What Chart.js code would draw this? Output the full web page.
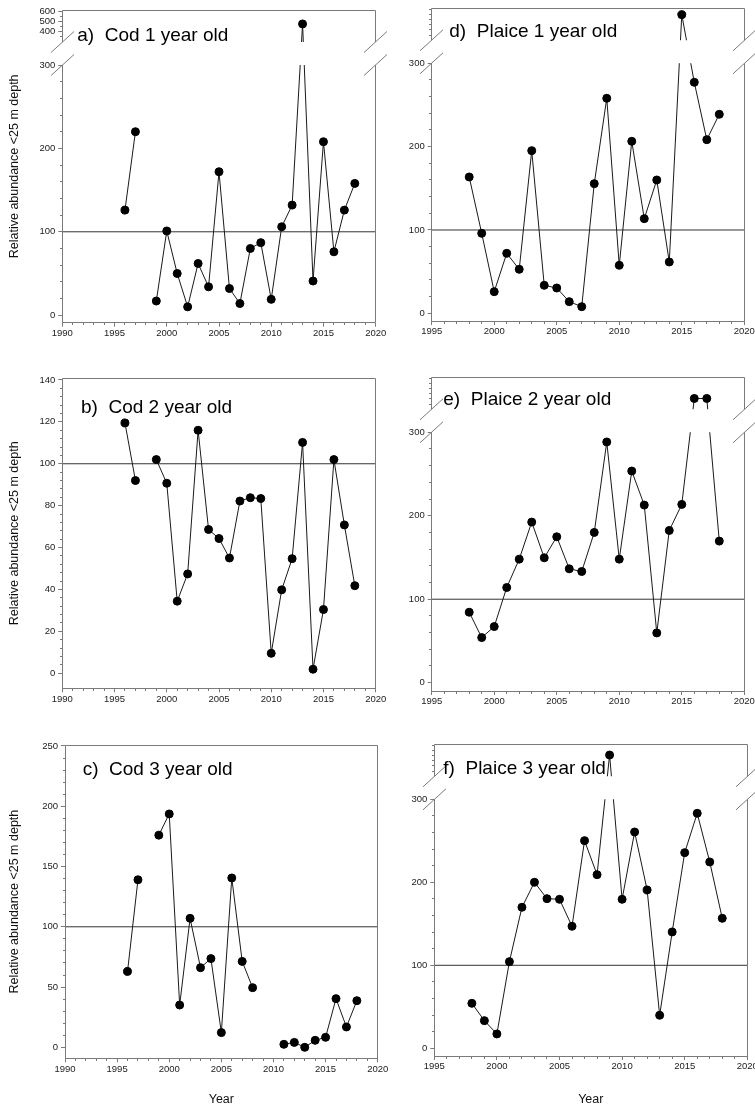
<!DOCTYPE html>
<html>
<head>
<meta charset="utf-8">
<script src="https://cdn.jsdelivr.net/npm/chart.js"></script>
<style>
  html, body { margin: 0; padding: 0; background: #fff; }
  #page { position: relative; width: 755px; height: 1108px; overflow: hidden; background: #fff; }
  #page canvas { position: absolute; }
</style>
</head>
<body>
<div id="page">
  <canvas id="ca"></canvas>
  <canvas id="cb"></canvas>
  <canvas id="cc"></canvas>
  <canvas id="cd"></canvas>
  <canvas id="ce"></canvas>
  <canvas id="cf"></canvas>
</div>
<script>
// --- data ---
var codYears = [1996, 1997, 1998, 1999, 2000, 2001, 2002, 2003, 2004, 2005, 2006, 2007,
  2008, 2009, 2010, 2011, 2012, 2013, 2014, 2015, 2016, 2017, 2018];
var plaiceYears = [1998, 1999, 2000, 2001, 2002, 2003, 2004, 2005, 2006, 2007, 2008,
  2009, 2010, 2011, 2012, 2013, 2014, 2015, 2016, 2017, 2018];

var cod1 = [126, 220, null, 17, 101, 50, 10, 62, 34, 172, 32, 14, 80, 87, 19, 106, 132, 475, 41, 208, 76, 126, 158];
var cod2 = [119.5, 92, null, 102, 90.7, 34.4, 47.4, 116, 68.6, 64.3, 55, 82.2, 83.8, 83.4, 9.5, 39.8, 54.7, 110.2, 1.9, 30.4, 102, 70.8, 41.8];
var cod3 = [63, 139, null, 176, 193.6, 35.1, 107, 66.1, 73.6, 12.2, 140.5, 71.3, 49.5, null, null, 2.5, 4.1, 0, 5.8, 8.3, 40.4, 16.9, 38.7];

var plaice1 = [163.6, 96, 26, 72, 52.8, 195.2, 33.6, 30.4, 14, 8, 155.6, 258, 57.6, 206.4, 113.6, 160, 61.6, 548, 277.2, 208.4, 238.8];
var plaice2 = [84.4, 54, 67.2, 114, 148, 192.4, 149.6, 174.8, 136.4, 133.2, 180, 288.4, 148, 253.6, 212.8, 59.6, 182.4, 213.6, 405, 405, 169.6];
var plaice3 = [54.2, 33.3, 17.3, 104.4, 169.9, 200, 180.3, 179.5, 147, 250.2, 209.2, 506, 179.5, 260.6, 190.8, 39.8, 140.2, 235.7, 283.1, 224.5, 156.6];

var codXTicks = [1990, 1995, 2000, 2005, 2010, 2015, 2020];
var plaiceXTicks = [1995, 2000, 2005, 2010, 2015, 2020];
var cod1YTicks = [0, 100, 200, 300, 400, 500, 600];
var cod2YTicks = [0, 20, 40, 60, 80, 100, 120, 140];
var cod3YTicks = [0, 50, 100, 150, 200, 250];
var plaiceYTicks = [0, 100, 200, 300];

var panelLabels = ['a)  Cod 1 year old', 'b)  Cod 2 year old', 'c)  Cod 3 year old',
  'd)  Plaice 1 year old', 'e)  Plaice 2 year old', 'f)  Plaice 3 year old'];
var yTitleText = 'Relative abundance <25 m depth';
var xTitleText = 'Year';
var refLevel = 100;

var FONT = "'Liberation Sans', Arial, sans-serif";
var FRAME = '#7a7a7a';

// break in the y axis: values above 300 get squeezed into a thin strip at the top
var BRK = { at: 300, upperPx: 32, gap: 23, upperMinor: 50 };

// layout: canvas box [x, y, w, h] and plot area [left, top, right, bottom] in page pixels
var panels = {
  ca: { box: [0, 0, 392, 345], area: [62.3, 10, 375.7, 322.7], years: codYears, values: cod1,
        xTicks: codXTicks, yTicks: cod1YTicks, yMin: -9, yMax: 610, yMinor: 20, brk: true,
        label: panelLabels[0], labelAt: [15, 30.7], yTitle: true, xTitle: false },
  cb: { box: [0, 345, 392, 367], area: [62.3, 378.3, 375.7, 688.3], years: codYears, values: cod2,
        xTicks: codXTicks, yTicks: cod2YTicks, yMin: -7.2, yMax: 140.8, yMinor: 4, brk: false,
        label: panelLabels[1], labelAt: [18.7, 35], yTitle: true, xTitle: false },
  cc: { box: [0, 712, 392, 396], area: [65, 745, 377.7, 1058.3], years: codYears, values: cod3,
        xTicks: codXTicks, yTicks: cod3YTicks, yMin: -9.1, yMax: 250.8, yMinor: 10, brk: false,
        label: panelLabels[2], labelAt: [17.7, 30], yTitle: true, xTitle: true },
  cd: { box: [392, 0, 363, 345], area: [431.7, 8.3, 744.3, 321], years: plaiceYears, values: plaice1,
        xTicks: plaiceXTicks, yTicks: plaiceYTicks, yMin: -9.2, yMax: 610, yMinor: 20, brk: true,
        label: panelLabels[3], labelAt: [17.6, 28.7], yTitle: false, xTitle: false },
  ce: { box: [392, 345, 363, 367], area: [431.7, 377.3, 744.3, 691], years: plaiceYears, values: plaice2,
        xTicks: plaiceXTicks, yTicks: plaiceYTicks, yMin: -10, yMax: 610, yMinor: 20, brk: true,
        label: panelLabels[4], labelAt: [11.6, 27.7], yTitle: false, xTitle: false },
  cf: { box: [392, 712, 363, 396], area: [434.3, 744.3, 747.3, 1056], years: plaiceYears, values: plaice3,
        xTicks: plaiceXTicks, yTicks: plaiceYTicks, yMin: -9.3, yMax: 610, yMinor: 20, brk: true,
        label: panelLabels[5], labelAt: [9, 29.7], yTitle: false, xTitle: true }
};

var LinearScale = Chart.LinearScale || Chart.registry.getScale('linear');

class BrokenScale extends LinearScale {
  getPixelForValue(value) {
    var high = this.top + BRK.upperPx;
    var low = high + BRK.gap;
    if (value <= BRK.at) {
      return this.bottom - (value - this.min) / (BRK.at - this.min) * (this.bottom - low);
    }
    return high - (value - BRK.at) / (this.max - BRK.at) * BRK.upperPx;
  }
}
BrokenScale.id = 'broken';
BrokenScale.defaults = LinearScale.defaults;
Chart.register(BrokenScale);

function gapOf(chart) {
  var high = chart.chartArea.top + BRK.upperPx;
  return { high: high, low: high + BRK.gap };
}

function crisp(v) { return Math.round(v - 0.5) + 0.5; }

var framePlugin = {
  id: 'frame',
  beforeDatasetsDraw: function (chart) {
    var p = panels[chart.canvas.id];
    if (!p.brk) return;
    var a = chart.chartArea, g = gapOf(chart), ctx = chart.ctx;
    ctx.save();
    ctx.beginPath();
    ctx.rect(a.left - 10, a.top - 10, a.right - a.left + 20, g.high - a.top + 10);
    ctx.rect(a.left - 10, g.low, a.right - a.left + 20, a.bottom - g.low + 10);
    ctx.clip();
  },
  afterDatasetsDraw: function (chart) {
    if (panels[chart.canvas.id].brk) chart.ctx.restore();
  },
  afterDraw: function (chart) {
    var p = panels[chart.canvas.id];
    var a = chart.chartArea, ctx = chart.ctx;
    var xs = chart.scales.x, ys = chart.scales.y;
    var L = crisp(a.left), R = crisp(a.right), T = crisp(a.top), B = crisp(a.bottom);
    ctx.save();
    ctx.strokeStyle = FRAME;
    ctx.lineWidth = 1;
    ctx.beginPath();
    ctx.moveTo(L, T); ctx.lineTo(R, T);
    ctx.moveTo(L, B); ctx.lineTo(R, B);
    if (p.brk) {
      var g = gapOf(chart);
      [L, R].forEach(function (x) {
        ctx.moveTo(x, T); ctx.lineTo(x, g.high);
        ctx.moveTo(x, g.low); ctx.lineTo(x, B);
        [g.high, g.low].forEach(function (y) {
          ctx.moveTo(x - 11.5, y + 10.5); ctx.lineTo(x + 11.5, y - 10.5);
        });
      });
    } else {
      ctx.moveTo(L, T); ctx.lineTo(L, B);
      ctx.moveTo(R, T); ctx.lineTo(R, B);
    }
    ctx.stroke();

    // minor ticks
    ctx.beginPath();
    for (var yr = xs.min; yr <= xs.max; yr++) {
      if (yr % 5 === 0) continue;
      var px = crisp(xs.getPixelForValue(yr));
      ctx.moveTo(px, B); ctx.lineTo(px, B + 2.5);
    }
    var top = p.brk ? BRK.at : ys.max;
    for (var v = 0; v <= top; v += p.yMinor) {
      if (p.yTicks.indexOf(v) >= 0) continue;
      var py = crisp(ys.getPixelForValue(v));
      ctx.moveTo(L - 2.5, py); ctx.lineTo(L, py);
    }
    if (p.brk) {
      for (var u = BRK.at + BRK.upperMinor; u <= ys.max; u += BRK.upperMinor) {
        if (p.yTicks.indexOf(u) >= 0) continue;
        var pu = crisp(ys.getPixelForValue(u));
        ctx.moveTo(L - 2.5, pu); ctx.lineTo(L, pu);
      }
    }
    ctx.stroke();

    // panel label
    ctx.fillStyle = '#000';
    ctx.font = '19px ' + FONT;
    ctx.textAlign = 'left';
    ctx.textBaseline = 'alphabetic';
    ctx.fillText(p.label, a.left + p.labelAt[0], a.top + p.labelAt[1]);
    ctx.restore();
  }
};

function makePanel(id) {
  var p = panels[id];
  var cv = document.getElementById(id);
  cv.width = p.box[2];
  cv.height = p.box[3];
  cv.style.left = p.box[0] + 'px';
  cv.style.top = p.box[1] + 'px';

  var points = p.years.map(function (yr, i) { return { x: yr, y: p.values[i] }; });
  var xMin = p.xTicks[0], xMax = p.xTicks[p.xTicks.length - 1];

  new Chart(cv, {
    type: 'line',
    data: {
      datasets: [{
        data: points,
        borderColor: '#1a1a1a',
        borderWidth: 1,
        tension: 0,
        spanGaps: false,
        pointRadius: 4,
        pointBorderWidth: 1,
        pointBackgroundColor: '#000',
        pointBorderColor: '#000'
      }, {
        data: [{ x: xMin, y: refLevel }, { x: xMax, y: refLevel }],
        borderColor: '#333',
        borderWidth: 1,
        pointRadius: 0
      }]
    },
    plugins: [framePlugin],
    options: {
      responsive: false,
      animation: false,
      events: [],
      layout: {
        padding: {
          left: 0,
          top: p.area[1] - p.box[1],
          right: p.box[0] + p.box[2] - p.area[2],
          bottom: 0
        }
      },
      plugins: { legend: { display: false }, tooltip: { enabled: false } },
      scales: {
        x: {
          type: 'linear',
          min: xMin,
          max: xMax,
          bounds: 'data',
          afterBuildTicks: function (s) { s.ticks = p.xTicks.map(function (v) { return { value: v }; }); },
          afterFit: function (s) {
            s.height = p.box[1] + p.box[3] - p.area[3];
            s.paddingLeft = 0; s.paddingRight = 0;
          },
          grid: { drawOnChartArea: false, drawTicks: true, tickLength: 4, tickColor: FRAME },
          border: { display: false },
          ticks: {
            autoSkip: false, maxRotation: 0, padding: 1, color: '#222',
            font: { family: FONT, size: 9.5 },
            callback: function (v) { return String(v); }
          },
          title: {
            display: p.xTitle, text: xTitleText, color: '#111',
            font: { family: FONT, size: 12.5 }, padding: { top: 0, bottom: 0.5 }
          }
        },
        y: {
          type: p.brk ? 'broken' : 'linear',
          min: p.yMin,
          max: p.yMax,
          bounds: 'data',
          afterBuildTicks: function (s) { s.ticks = p.yTicks.map(function (v) { return { value: v }; }); },
          afterFit: function (s) {
            s.width = p.area[0] - p.box[0];
            s.paddingTop = 0; s.paddingBottom = 0;
          },
          grid: { drawOnChartArea: false, drawTicks: true, tickLength: 4, tickColor: FRAME },
          border: { display: false },
          ticks: {
            autoSkip: false, padding: 3, color: '#222',
            font: { family: FONT, size: 9.5 },
            callback: function (v) { return String(v); }
          },
          title: {
            display: p.yTitle, text: yTitleText, color: '#111',
            font: { family: FONT, size: 12.5 }, padding: { top: 7.5, bottom: 0 }
          }
        }
      }
    }
  });
}

Object.keys(panels).forEach(makePanel);
</script>
</body>
</html>
